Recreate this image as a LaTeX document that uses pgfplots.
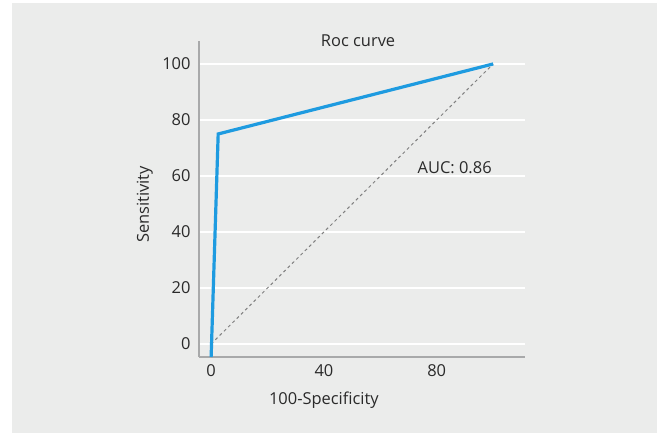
\documentclass[border=0pt]{standalone}
\usepackage{fontspec}
\setmainfont{Open Sans}
\usepackage{pgfplots}
\pgfplotsset{compat=1.18}
\definecolor{bgray}{HTML}{EBECEB}
\definecolor{axgray}{HTML}{A8A9AA}
\definecolor{roc}{HTML}{1E9BE0}
\definecolor{txt}{HTML}{2A2A2A}
\begin{document}
\begin{tikzpicture}[x=1bp,y=1bp]
\path[use as bounding box] (0,0) rectangle (657,433);
\fill[white] (0,0) rectangle (657,433);
\fill[bgray] (12,0) rectangle (657,430);
\begin{axis}[
  at={(199bp,76bp)}, anchor=south west,
  scale only axis, width=326bp, height=316bp,
  xmin=-4.3, xmax=111.3, ymin=-4.64, ymax=108.2,
  axis x line=bottom, axis y line=left,
  axis line style={draw=axgray, line width=1.8bp, -},
  xtick={0,40,80}, ytick={0,20,40,60,80,100},
  major tick length=0pt,
  ymajorgrids, grid style={white, line width=1.6bp},
  /pgf/number format/assume math mode=true,
  ticklabel style={font=\fontsize{16.5}{19}\selectfont, text=txt},
  yticklabel style={xshift=-5bp},
  xticklabel style={yshift=-4bp},
  xlabel={100-Specificity}, ylabel={Sensitivity},
  label style={font=\fontsize{16.5}{19}\selectfont, text=txt},
  xlabel style={at={(rel axis cs:0.383,-0.136)}, anchor=center},
  ylabel style={at={(rel axis cs:-0.166,0.483)}, anchor=center},
  clip=false,
]
\addplot[gray, line width=1bp, dash pattern=on 3bp off 3bp] coordinates {(0,0) (100,100)};
\addplot[roc, line width=3.2bp, line join=miter] coordinates {(0,-4.64) (2.5,75) (100,100)};
\node[font=\fontsize{16.5}{19}\selectfont, text=txt] at (rel axis cs:0.488,1.0) {Roc curve};
\node[font=\fontsize{16.5}{19}\selectfont, text=txt, anchor=west] at (axis cs:72.0,62.9) {AUC: 0.86};
\end{axis}
\end{tikzpicture}
\end{document}
